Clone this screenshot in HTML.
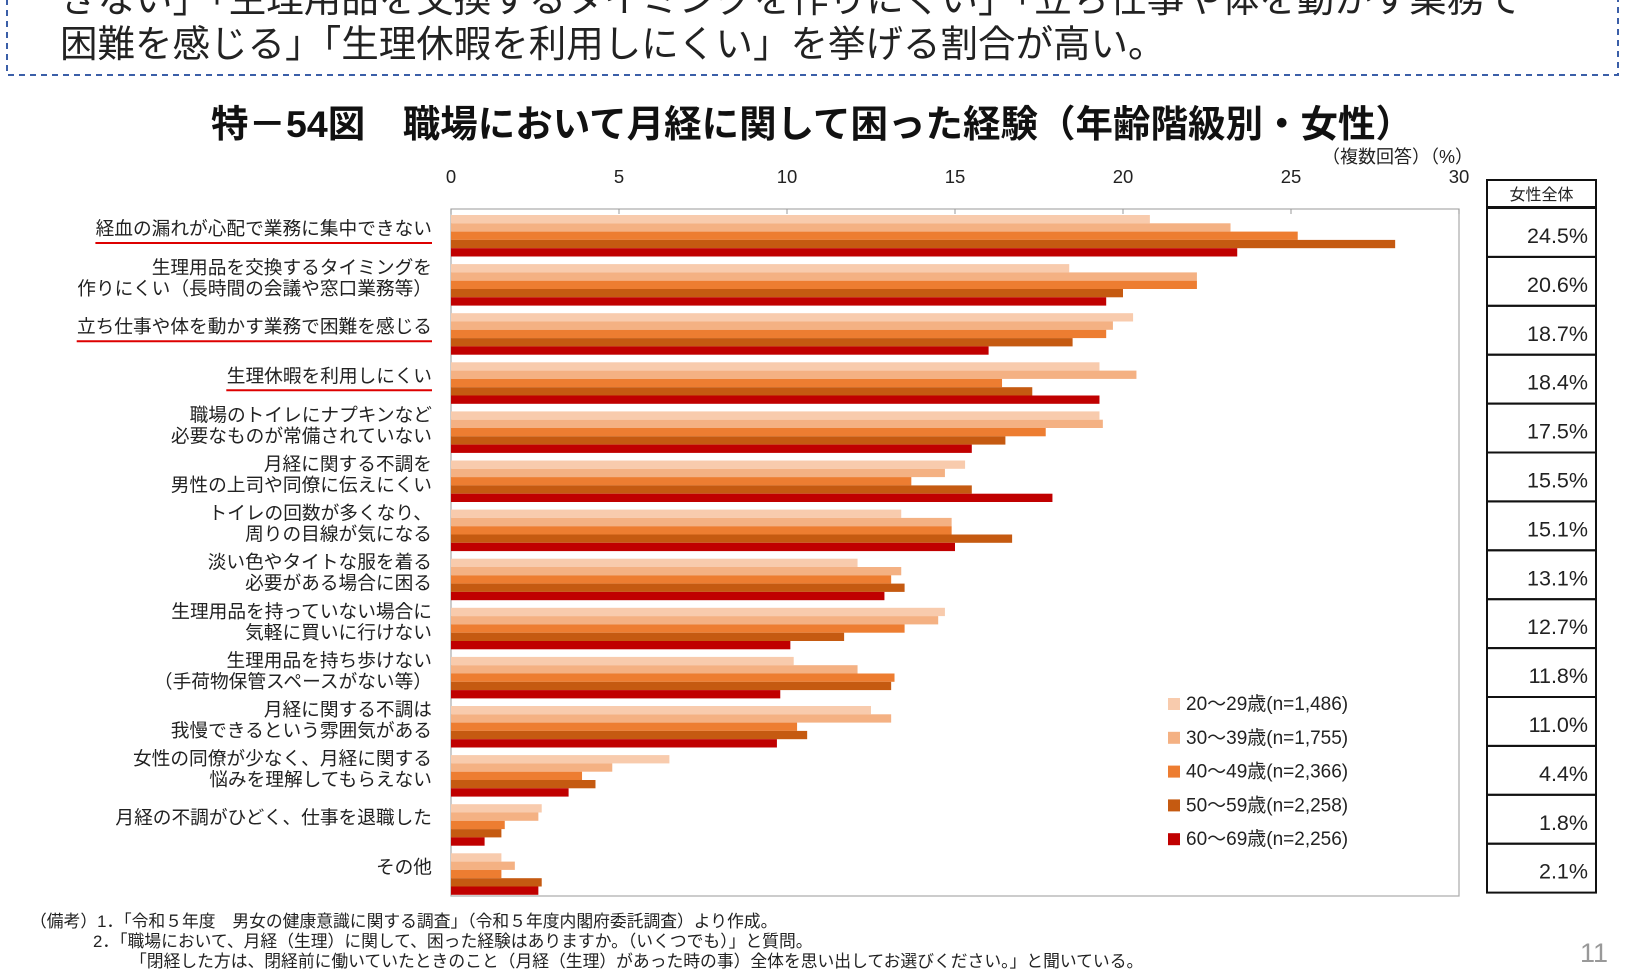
<!DOCTYPE html>
<html><head><meta charset="utf-8">
<style>
body{margin:0;background:#fff;}
svg{display:block;font-family:"Liberation Sans","Noto Sans CJK JP",sans-serif;}
</style></head><body>
<svg id="chart" width="1625" height="975" viewBox="0 0 1625 975">
<g>
<rect x="7" y="-10" width="1611" height="85" fill="none" stroke="#3b5fa8" stroke-width="2" stroke-dasharray="6,5"/>
<text x="60" y="12" font-size="37.5" fill="#222">きない」「生理用品を交換するタイミングを作りにくい」「立ち仕事や体を動かす業務で</text>
<text x="60" y="57" font-size="37.5" fill="#222">困難を感じる」「生理休暇を利用しにくい」を挙げる割合が高い。</text>
</g>
<text x="812" y="137" font-size="37.5" font-weight="bold" text-anchor="middle" fill="#111">特－54図　職場において月経に関して困った経験（年齢階級別・女性）</text>
<text x="1473" y="163" font-size="18" text-anchor="end" fill="#222">（複数回答）（%）</text>
<g id="plot"></g>
<g id="table"></g>
<g font-size="16.8" fill="#222">
<text x="30" y="927">（備考）1．「令和５年度　男女の健康意識に関する調査」（令和５年度内閣府委託調査）より作成。</text>
<text x="93" y="947">2．「職場において、月経（生理）に関して、困った経験はありますか。（いくつでも）」と質問。</text>
<text x="130" y="967">「閉経した方は、閉経前に働いていたときのこと（月経（生理）があった時の事）全体を思い出してお選びください。」と聞いている。</text>
</g>
<text x="1608" y="962" font-size="27" fill="#999" text-anchor="end">11</text>
</svg>
<script>
const categories=[
["経血の漏れが心配で業務に集中できない"],
["生理用品を交換するタイミングを","作りにくい（長時間の会議や窓口業務等）"],
["立ち仕事や体を動かす業務で困難を感じる"],
["生理休暇を利用しにくい"],
["職場のトイレにナプキンなど","必要なものが常備されていない"],
["月経に関する不調を","男性の上司や同僚に伝えにくい"],
["トイレの回数が多くなり、","周りの目線が気になる"],
["淡い色やタイトな服を着る","必要がある場合に困る"],
["生理用品を持っていない場合に","気軽に買いに行けない"],
["生理用品を持ち歩けない","（手荷物保管スペースがない等）"],
["月経に関する不調は","我慢できるという雰囲気がある"],
["女性の同僚が少なく、月経に関する","悩みを理解してもらえない"],
["月経の不調がひどく、仕事を退職した"],
["その他"]];
const underlined=[0,2,3];
const age20=[20.8,18.4,20.3,19.3,19.3,15.3,13.4,12.1,14.7,10.2,12.5,6.5,2.7,1.5];
const age30=[23.2,22.2,19.7,20.4,19.4,14.7,14.9,13.4,14.5,12.1,13.1,4.8,2.6,1.9];
const age40=[25.2,22.2,19.5,16.4,17.7,13.7,14.9,13.1,13.5,13.2,10.3,3.9,1.6,1.5];
const age50=[28.1,20.0,18.5,17.3,16.5,15.5,16.7,13.5,11.7,13.1,10.6,4.3,1.5,2.7];
const age60=[23.4,19.5,16.0,19.3,15.5,17.9,15.0,12.9,10.1,9.8,9.7,3.5,1.0,2.6];
const seriesNames=["20～29歳(n=1,486)","30～39歳(n=1,755)","40～49歳(n=2,366)","50～59歳(n=2,258)","60～69歳(n=2,256)"];
const totals=["24.5%","20.6%","18.7%","18.4%","17.5%","15.5%","15.1%","13.1%","12.7%","11.8%","11.0%","4.4%","1.8%","2.1%"];
const xTicks=[0,5,10,15,20,25,30];
const colors=["#f8cbad","#f4b183","#ed7d31","#c55a11","#c00000"];
const series=[age20,age30,age40,age50,age60];
const NS="http://www.w3.org/2000/svg";
const X0=451,X1=1459,XMAX=30,TOP=209,BOT=896,G0=215,GS=49.1,BH=8.3;
const x=v=>X0+(X1-X0)*v/XMAX;
function mk(tag,attrs,parent,txt){const e=document.createElementNS(NS,tag);for(const k in attrs)e.setAttribute(k,attrs[k]);if(txt!=null)e.textContent=txt;parent.appendChild(e);return e;}
const plot=document.getElementById('plot');
const frame=mk('rect',{x:X0,y:TOP,width:X1-X0,height:BOT-TOP,fill:'none',stroke:'#aaa','stroke-width':1.2},plot);


xTicks.forEach(t=>{
 const l=mk('line',{x1:x(t),x2:x(t),y1:TOP,y2:TOP+5,stroke:'#999'},plot);
 
 
 const tx=mk('text',{x:x(t),y:183,'font-size':18.5,'text-anchor':'middle',fill:'#222'},plot,String(t));
 
 
});
const FS=18.7;
categories.forEach((c,i)=>{
 const gy=G0+i*GS;
 series.forEach((s,j)=>{
  const r=mk('rect',{x:X0,y:gy+j*BH,width:x(s[i])-X0,height:BH,fill:colors[j]},plot);
  
  
 });
 const cy=gy+23;
 c.forEach((ln,k)=>{
  const yy=c.length===1?cy-3:cy-13+k*21;
  const t=mk('text',{x:432,y:yy,'font-size':FS,'text-anchor':'end',fill:'#222'},plot,ln);
  
  
 });
 if(underlined.includes(i)){
  const len=c[0].length*FS;
  const u=mk('line',{x1:432-len,x2:432,y1:cy+5,y2:cy+5,stroke:'#d00','stroke-width':2},plot);
  
  
 }
});
seriesNames.forEach((n,j)=>{
 const ly=704+j*33.8;
 const sq=mk('rect',{x:1168,y:ly-6,width:12,height:12,fill:colors[j]},plot);
 
 
 const t=mk('text',{x:1186,y:ly+6,'font-size':19,fill:'#222'},plot,n);
 
 
});
const tb=document.getElementById('table');
const TX=1487,TW=109,RH=48.9;
const hdr=mk('rect',{x:TX,y:180,width:TW,height:27,fill:'none',stroke:'#111','stroke-width':2},tb);


const ht=mk('text',{x:TX+TW/2,y:200,'font-size':16,'text-anchor':'middle',fill:'#222'},tb,'女性全体');


totals.forEach((v,i)=>{
 const ry=208+i*RH;
 const r=mk('rect',{x:TX,y:ry,width:TW,height:RH,fill:'none',stroke:'#111','stroke-width':2},tb);
 
 
 const t=mk('text',{x:TX+TW-8,y:ry+35,'font-size':21.5,'text-anchor':'end',fill:'#222'},tb,v);
 
 
});
</script>
</body></html>
